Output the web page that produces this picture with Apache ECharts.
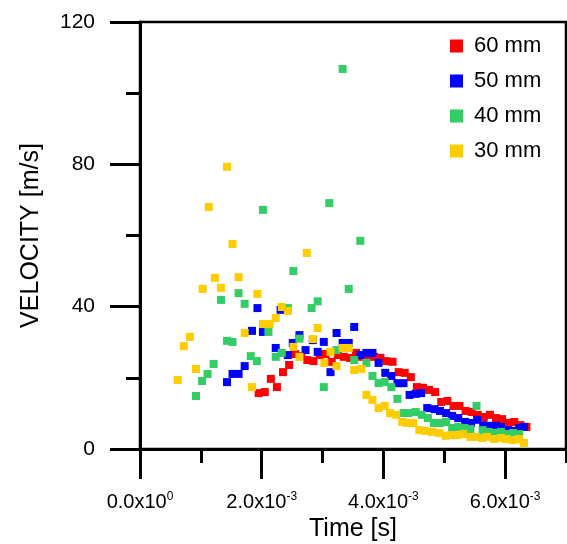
<!DOCTYPE html>
<html>
<head>
<meta charset="utf-8">
<script src="https://cdn.jsdelivr.net/npm/echarts@6/dist/echarts.min.js"></script>
<style>
html,body{margin:0;padding:0;background:#fff;}
#chart{width:567px;height:544px;}
</style>
</head>
<body>
<div id="chart"></div>
<script>
// ---- data (time in ms, velocity in m/s) ----
const seriesNames = ['60 mm', '50 mm', '40 mm', '30 mm'];

const t60 = [1.95,2.05,2.15,2.25,2.35,2.45,2.55,2.65,2.75,2.85,2.95,3.05,3.15,3.25,3.35,3.45,3.55,3.65,3.75,3.85,3.95,4.05,4.15,4.25,4.35,4.45,4.55,4.65,4.75,4.85,4.95,5.05,5.15,5.25,5.35,5.45,5.55,5.65,5.75,5.85,5.95,6.05,6.15,6.25,6.35];
const v60 = [15.7,16.0,19.7,17.4,21.6,23.6,26.7,26.1,25.0,24.7,26.4,26.7,24.5,26.4,25.9,25.6,27.0,25.9,25.9,25.9,25.6,24.7,24.5,21.6,21.4,20.2,17.4,17.2,16.6,16.0,13.2,13.5,12.1,12.1,10.7,10.4,9.6,9.0,9.6,8.7,8.4,7.3,7.6,6.7,6.2];

const t50 = [1.43,1.52,1.62,1.72,1.84,1.93,2.02,2.23,2.31,2.43,2.51,2.62,2.72,2.84,2.92,3.02,3.13,3.23,3.33,3.43,3.52,3.62,3.72,3.82,3.92,4.03,4.13,4.23,4.33,4.43,4.53,4.62,4.72,4.84,4.93,5.03,5.13,5.23,5.34,5.44,5.54,5.64,5.74,5.85,5.93,6.03,6.11,6.23,6.31];
const v50 = [18.8,21.1,21.1,23.3,33.2,39.6,32.9,28.4,39.1,26.4,29.8,32.0,27.8,30.6,27.3,30.1,21.6,32.6,29.8,29.8,34.3,26.4,27.0,27.0,24.2,21.4,20.5,18.5,18.5,15.2,15.5,15.7,11.5,11.2,10.7,10.1,9.3,8.7,7.6,7.3,8.2,6.7,6.5,6.5,6.2,5.3,5.1,5.9,6.2];

const t40 = [0.92,1.02,1.11,1.21,1.33,1.43,1.52,1.62,1.72,1.82,1.92,2.02,2.11,2.23,2.33,2.43,2.52,2.62,2.82,2.92,3.02,3.11,3.23,3.33,3.43,3.52,3.62,3.72,3.82,3.92,4.02,4.13,4.23,4.33,4.41,4.53,4.63,4.73,4.83,4.93,5.03,5.13,5.23,5.33,5.43,5.53,5.63,5.73,5.83,5.93,6.03,6.13,6.23];
const v40 = [14.9,19.1,21.1,23.9,41.9,30.4,30.1,43.8,40.8,26.1,24.7,67.2,32.9,25.9,27.0,39.6,50.0,31.0,39.6,41.5,17.4,69.1,27.8,106.8,45.0,25.0,58.5,24.2,20.5,18.5,18.8,17.4,14.1,10.1,10.1,10.4,9.6,8.7,7.3,7.3,7.6,5.9,6.2,5.9,5.6,12.1,5.3,4.8,4.5,4.8,4.2,4.5,4.2];

const t30 = [0.62,0.72,0.82,0.92,1.03,1.13,1.23,1.33,1.43,1.52,1.62,1.72,1.84,1.93,2.02,2.13,2.23,2.33,2.43,2.52,2.62,2.74,2.84,2.92,3.03,3.13,3.23,3.33,3.43,3.52,3.64,3.72,3.82,3.92,4.02,4.11,4.21,4.31,4.39,4.49,4.59,4.69,4.80,4.92,5.02,5.11,5.21,5.31,5.43,5.52,5.62,5.70,5.82,5.93,6.02,6.13,6.23,6.31];
const v30 = [19.4,28.9,31.5,22.5,45.0,68.0,48.1,45.3,79.3,57.6,48.3,32.6,17.4,43.6,35.1,35.1,36.8,39.9,38.8,28.7,25.9,55.1,30.9,34.0,24.2,27.3,23.3,28.4,28.4,22.2,22.5,15.2,13.8,11.5,12.1,10.1,9.6,7.6,7.3,7.3,5.3,5.1,4.8,4.5,3.7,3.9,3.9,4.2,3.4,3.4,3.1,3.4,2.8,3.1,2.8,2.5,2.8,1.7];

const xMajorTicks = [0, 0.002, 0.004, 0.006];
const xMinorTicks = [0.001, 0.003, 0.005, 0.007];
const colors = ['#ff0000', '#0000ff', '#33cc66', '#ffcc00'];

// ---- build ----
const FONT = '"Liberation Sans", Arial, Helvetica, sans-serif';
function pairs(t, v) { return t.map((x, i) => [x * 1e-3, v[i]]); }
const allT = [t60, t50, t40, t30];
const allV = [v60, v50, v40, v30];

const chart = echarts.init(document.getElementById('chart'), null, {renderer: 'canvas'});
const black = '#000';
const option = {
  animation: false,
  backgroundColor: '#fff',
  grid: {left: 140, right: 1, top: 22, bottom: 95, containLabel: false, outerBoundsMode: 'none',
         show: true, borderColor: black, borderWidth: 2.5, backgroundColor: 'transparent'},
  legend: {
    orient: 'vertical', left: 450, top: 35, padding: 0,
    itemWidth: 13, itemHeight: 13, itemGap: 13, icon: 'rect',
    textStyle: {fontSize: 22, fontFamily: FONT, color: black, padding: [0, 0, 0, 6], lineHeight: 22},
    data: seriesNames
  },
  xAxis: [
    {
      type: 'value', min: 0, max: 0.007, interval: 0.001, position: 'bottom',
      axisLine: {show: true, onZero: false, lineStyle: {color: black, width: 3}},
      axisTick: {show: true, length: 30, customValues: xMajorTicks, lineStyle: {color: black, width: 3}},
      axisLabel: {
        customValues: xMajorTicks, margin: 42, color: black,
        formatter: function (v) {
          if (Math.abs(v) < 1e-12) return '{b|0.0x10}{s|0}';
          return '{b|' + (v * 1000).toFixed(1) + 'x10}{s|-3}';
        },
        rich: {
          b: {fontSize: 20, fontFamily: FONT, color: black, lineHeight: 22},
          s: {fontSize: 12, fontFamily: FONT, color: black, verticalAlign: 'top'}
        }
      },
      splitLine: {show: false},
      name: 'Time [s]', nameLocation: 'middle', nameGap: 68,
      nameTextStyle: {fontSize: 25, fontFamily: FONT, color: black}
    },
    {
      type: 'value', min: 0, max: 0.007, interval: 0.001, position: 'bottom', gridIndex: 0,
      axisLine: {show: false},
      axisTick: {show: true, length: 14, customValues: xMinorTicks, lineStyle: {color: black, width: 3}},
      axisLabel: {show: false},
      splitLine: {show: false}
    }
  ],
  yAxis: {
    type: 'value', min: 0, max: 120, interval: 40,
    axisLine: {show: true, lineStyle: {color: black, width: 3}},
    axisTick: {show: true, length: 30, lineStyle: {color: black, width: 3}},
    minorTick: {show: true, splitNumber: 2, length: 14, lineStyle: {color: black, width: 3}},
    axisLabel: {margin: 45, fontSize: 21, fontFamily: FONT, color: black},
    splitLine: {show: false}, minorSplitLine: {show: false},
    name: 'VELOCITY [m/s]', nameLocation: 'middle', nameGap: 96,
    nameTextStyle: {fontSize: 25, fontFamily: FONT, color: black}
  },
  series: seriesNames.map((n, i) => ({
    name: n, type: 'scatter', xAxisIndex: 0, yAxisIndex: 0,
    symbol: 'rect', symbolSize: 8,
    itemStyle: {color: colors[i], opacity: 1},
    data: pairs(allT[i], allV[i])
  }))
};
chart.setOption(option);
</script>
</body>
</html>
